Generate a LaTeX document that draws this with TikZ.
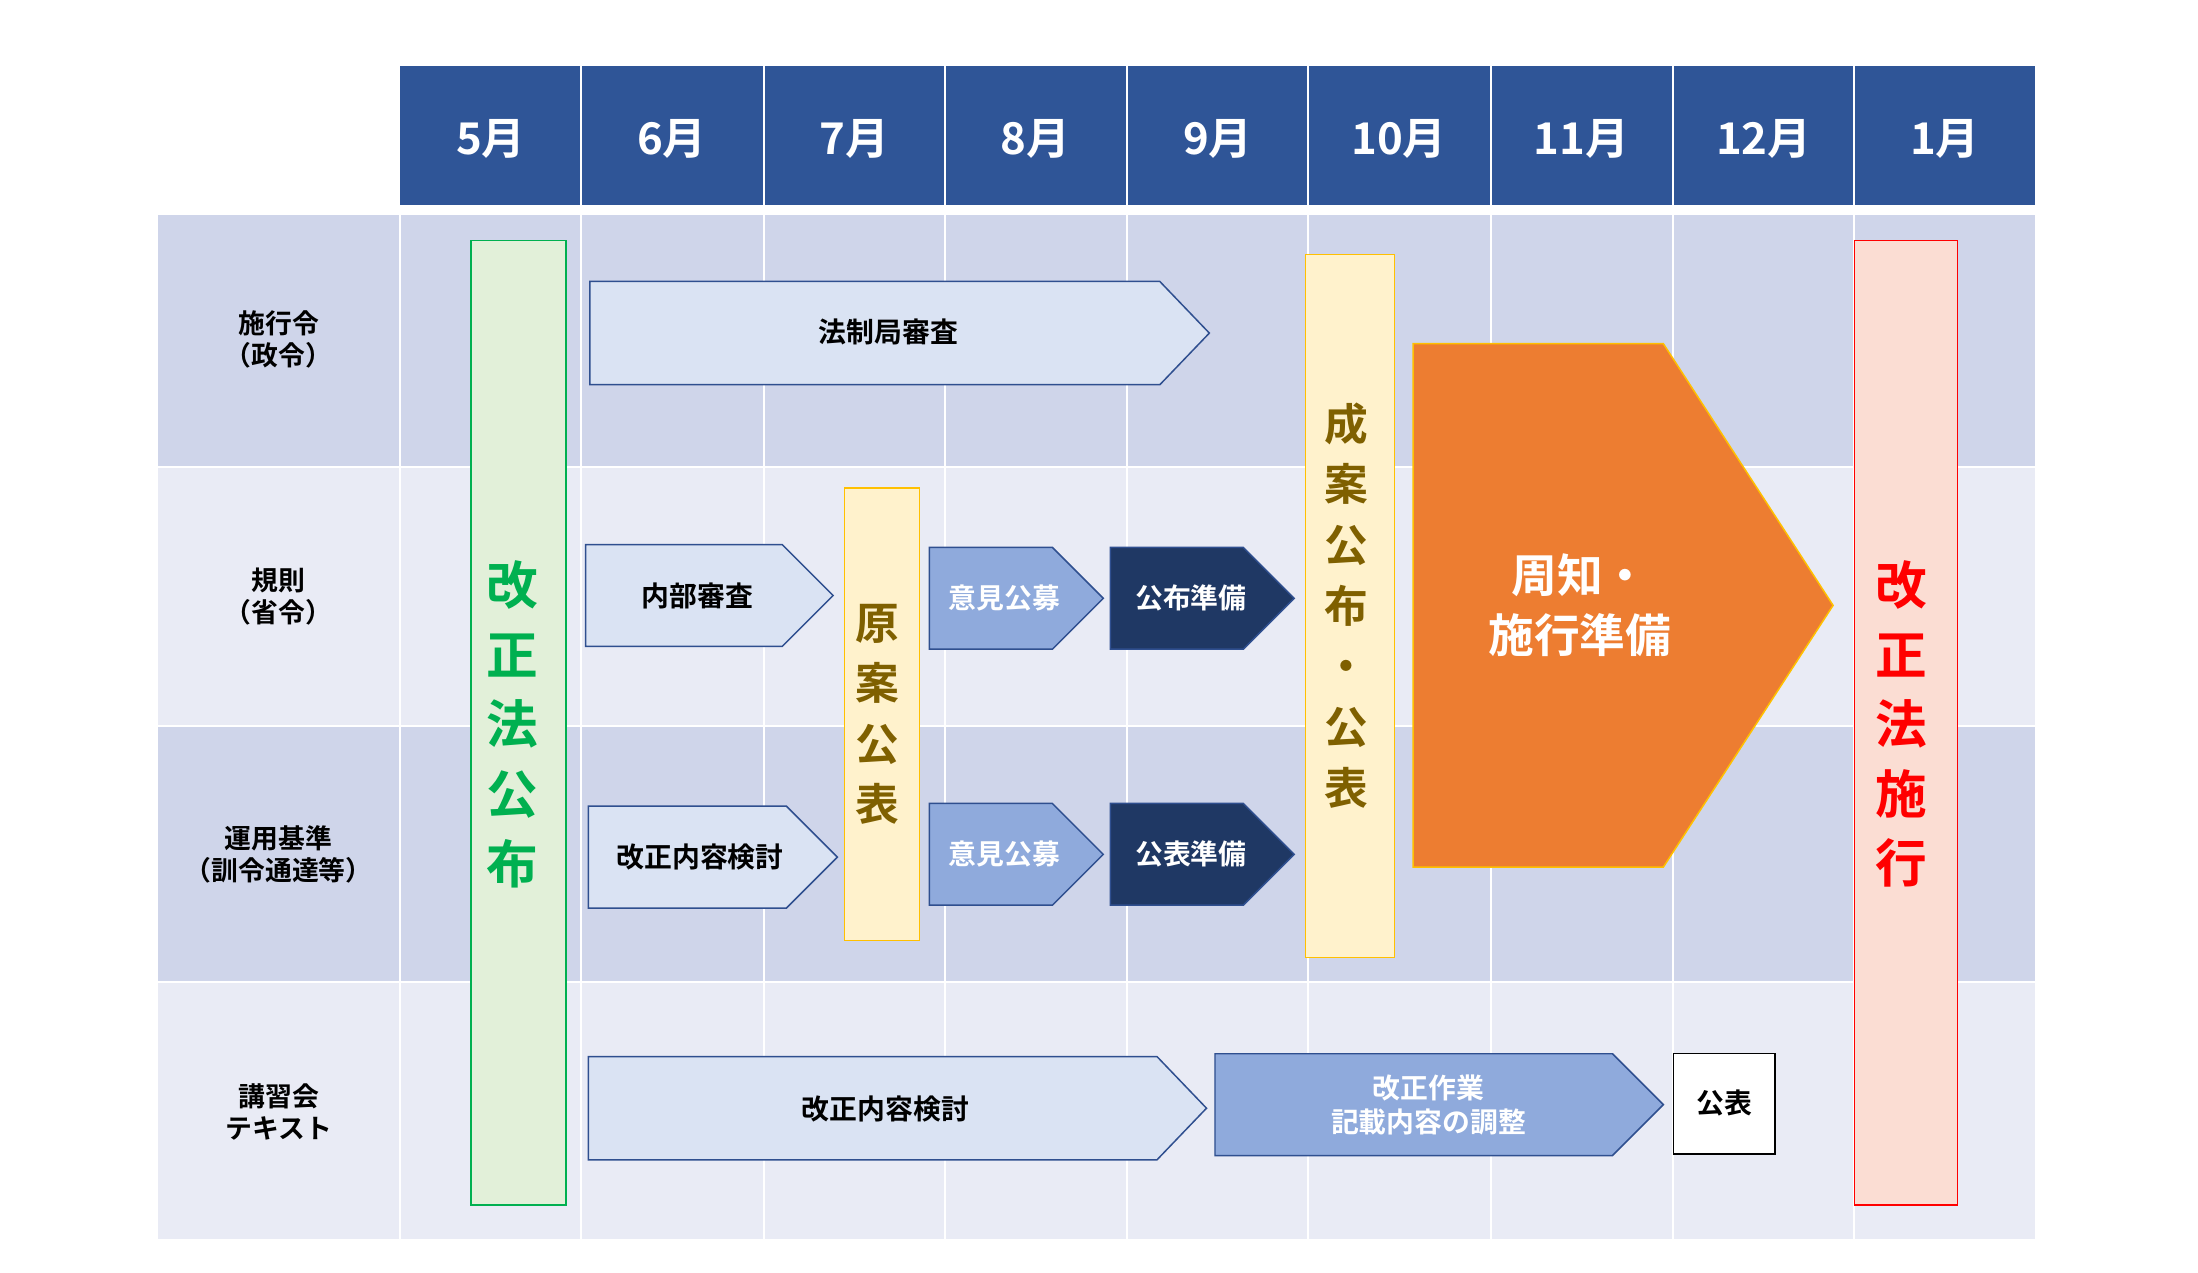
\documentclass[tikz,border=0pt]{standalone}
\usepackage{fontspec}
\setmainfont{Noto Sans CJK JP}[BoldFont={Noto Sans CJK JP Bold}]
\definecolor{hdr}{HTML}{2F5597}
\definecolor{rowA}{HTML}{CFD5EA}
\definecolor{rowB}{HTML}{E9EBF5}
\definecolor{lightbl}{HTML}{DAE3F3}
\definecolor{midbl}{HTML}{8FAADC}
\definecolor{navy}{HTML}{1F3864}
\definecolor{edge}{HTML}{2F4F8F}
\definecolor{olive}{HTML}{7F6000}
\definecolor{yel}{HTML}{FFF2CC}
\definecolor{gold}{HTML}{FFC000}
\definecolor{orng}{HTML}{ED7D31}
\definecolor{grn}{HTML}{00B050}
\definecolor{grnf}{HTML}{E2F0D9}
\definecolor{pinkf}{HTML}{FBDDD3}
\tikzset{
 mon/.style={text=white,font=\fontsize{44}{44}\bfseries\selectfont},
 rowlab/.style={align=center,font=\fontsize{27}{32}\bfseries\selectfont},
 arrtxt/.style={align=center,font=\fontsize{28}{34}\bfseries\selectfont},
 vert/.style={align=center,font=\fontsize{52}{70}\bfseries\selectfont},
 vert2/.style={align=center,font=\fontsize{44}{61}\bfseries\selectfont},
 arrlight/.style={fill=lightbl,draw=edge,line width=1.5pt},
 arrmid/.style={fill=midbl,draw=edge,line width=1.5pt},
 arrnavy/.style={fill=navy,draw=edge,line width=1.5pt},
}
\newcommand{\penta}[6]{\draw[#6] (#1,#2) -- ({#3-#5},#2) -- (#3,{(#2+#4)/2}) -- ({#3-#5},#4) -- (#1,#4) -- cycle;}
\begin{document}
\begin{tikzpicture}[x=0.05cm,y=-0.05cm]
\useasboundingbox (0,0) rectangle (1554,900);
% header
\fill[hdr] (283,47) rectangle (1439,145);
\foreach \x/\m [count=\i] in {347/5月,475/6月,604/7月,732/8月,861/9月,989/10月,1118/11月,1247/12月,1375/1月}
  \node[mon] (m\i) at (\x,98) {\m};
\foreach \x in {411,540,668,797,925,1054,1183,1311} \draw[white,line width=2pt] (\x,47) -- (\x,145);
% rows
\fill[rowA] (112,152) rectangle (1439,330);
\fill[rowB] (112,330) rectangle (1439,513);
\fill[rowA] (112,513) rectangle (1439,694);
\fill[rowB] (112,694) rectangle (1439,876);
\foreach \x in {283,411,540,668,797,925,1054,1183,1311} \draw[white,line width=2pt] (\x,152) -- (\x,876);
\foreach \y in {330,513,694} \draw[white,line width=2pt] (112,\y) -- (1439,\y);
\node[rowlab] (r1) at (197,240) {施行令\\（政令）};
\node[rowlab] (r2) at (197,422) {規則\\（省令）};
\node[rowlab] (r3) at (197,604) {運用基準\\（訓令通達等）};
\node[rowlab] (r4) at (197,786) {講習会\\テキスト};
% bars
\draw[fill=grnf,draw=grn,line width=1.5pt] (333,170) rectangle (400,852);
\node[vert,text=grn] (g) at (362,512) {改\\正\\法\\公\\布};
\draw[fill=pinkf,draw=red,line width=1.5pt] (1311,170) rectangle (1384,852);
\node[vert,text=red] (rr) at (1344,512) {改\\正\\法\\施\\行};
\draw[fill=yel,draw=gold,line width=1.5pt] (597,345) rectangle (650,665);
\node[vert2,text=olive] (y1) at (620,505) {原\\案\\公\\表};
\draw[fill=yel,draw=gold,line width=1.5pt] (923,180) rectangle (986,677);
\node[vert2,text=olive] (y2) at (952,428) {成\\案\\公\\布\\・\\公\\表};
% arrows
\penta{417}{199}{855}{272}{35}{arrlight}
\node[arrtxt] (a1) at (628,235) {法制局審査};
\penta{414}{385}{589}{457}{36}{arrlight}
\node[arrtxt] (a2) at (493,421) {内部審査};
\penta{657}{387}{780}{459}{36}{arrmid}
\node[arrtxt,text=white] (a3) at (710,423) {意見公募};
\penta{785}{387}{915}{459}{36}{arrnavy}
\node[arrtxt,text=white] (a4) at (842,423) {公布準備};
\penta{416}{570}{592}{642}{36}{arrlight}
\node[arrtxt] (a5) at (495,606) {改正内容検討};
\penta{657}{568}{780}{640}{36}{arrmid}
\node[arrtxt,text=white] (a6) at (710,604) {意見公募};
\penta{785}{568}{915}{640}{36}{arrnavy}
\node[arrtxt,text=white] (a7) at (842,604) {公表準備};
\penta{416}{747}{853}{820}{35}{arrlight}
\node[arrtxt] (a8) at (626,784) {改正内容検討};
\penta{859}{745}{1176}{817}{36}{arrmid}
\node[arrtxt,text=white] (a9) at (1010,781) {改正作業\\記載内容の調整};
\draw[fill=white,draw=black,line width=1.5pt] (1183,745) rectangle (1255,816);
\node[arrtxt] (a10) at (1219,780) {公表};
\penta{999}{243}{1296}{613}{120}{fill=orng,draw=gold,line width=1.5pt}
\node[align=center,text=white,font=\fontsize{46}{60}\bfseries\selectfont] (big) at (1117,428) {周知・\\施行準備};
\end{tikzpicture}
\end{document}
